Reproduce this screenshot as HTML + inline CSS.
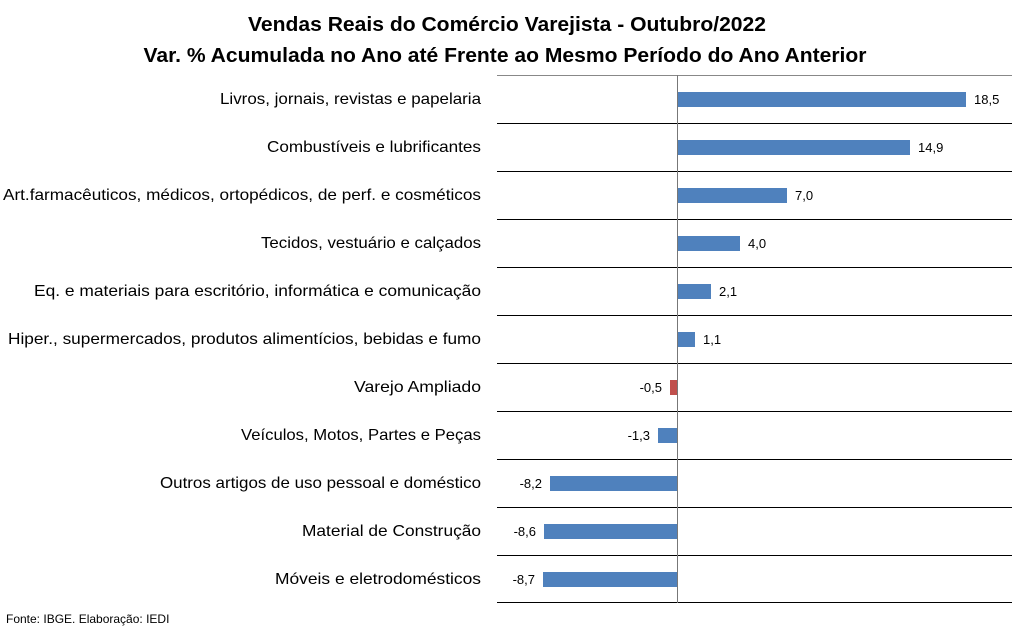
<!DOCTYPE html>
<html><head><meta charset="utf-8"><style>
body{margin:0;background:#fff;font-family:"Liberation Sans",sans-serif;}
svg text{font-family:"Liberation Sans",sans-serif;}
</style></head><body>
<svg width="1012" height="631" xmlns="http://www.w3.org/2000/svg">
<text x="507" y="31" text-anchor="middle" font-size="20" font-weight="bold" fill="#000" textLength="518" lengthAdjust="spacingAndGlyphs">Vendas Reais do Comércio Varejista - Outubro/2022</text>
<text x="505" y="62" text-anchor="middle" font-size="20" font-weight="bold" fill="#000" textLength="723" lengthAdjust="spacingAndGlyphs">Var. % Acumulada no Ano até Frente ao Mesmo Período do Ano Anterior</text>
<line x1="497" y1="75.5" x2="1012" y2="75.5" stroke="#888" stroke-width="1"/>
<g stroke="#000" stroke-width="1">
<line x1="497" y1="123.5" x2="1012" y2="123.5"/><line x1="497" y1="171.5" x2="1012" y2="171.5"/>
<line x1="497" y1="219.5" x2="1012" y2="219.5"/><line x1="497" y1="267.5" x2="1012" y2="267.5"/>
<line x1="497" y1="315.5" x2="1012" y2="315.5"/><line x1="497" y1="363.5" x2="1012" y2="363.5"/>
<line x1="497" y1="411.5" x2="1012" y2="411.5"/><line x1="497" y1="459.5" x2="1012" y2="459.5"/>
<line x1="497" y1="507.5" x2="1012" y2="507.5"/><line x1="497" y1="555.5" x2="1012" y2="555.5"/>
<line x1="497" y1="602.5" x2="1012" y2="602.5"/>
</g>
<g fill="#4f81bd">
<rect x="678" y="92" width="288" height="15"/>
<rect x="678" y="140" width="232" height="15"/>
<rect x="678" y="188" width="109" height="15"/>
<rect x="678" y="236" width="62" height="15"/>
<rect x="678" y="284" width="33" height="15"/>
<rect x="678" y="332" width="17" height="15"/>
<rect x="670" y="380" width="8" height="15" fill="#c0504d"/>
<rect x="658" y="428" width="20" height="15"/>
<rect x="550" y="476" width="128" height="15"/>
<rect x="544" y="524" width="134" height="15"/>
<rect x="543" y="572" width="135" height="15"/>
</g>
<line x1="677.5" y1="75" x2="677.5" y2="603" stroke="#777" stroke-width="1"/>
<g font-size="13" fill="#000">
<text x="974" y="104">18,5</text><text x="918" y="152">14,9</text><text x="795" y="200">7,0</text>
<text x="748" y="248">4,0</text><text x="719" y="296">2,1</text><text x="703" y="344">1,1</text>
<text x="662" y="392" text-anchor="end">-0,5</text><text x="650" y="440" text-anchor="end">-1,3</text>
<text x="542" y="488" text-anchor="end">-8,2</text><text x="536" y="536" text-anchor="end">-8,6</text>
<text x="535" y="584" text-anchor="end">-8,7</text>
</g>
<g font-size="16" fill="#000" text-anchor="end" lengthAdjust="spacingAndGlyphs">
<text x="481" y="104" textLength="261" lengthAdjust="spacingAndGlyphs">Livros, jornais, revistas e papelaria</text>
<text x="481" y="152" textLength="214" lengthAdjust="spacingAndGlyphs">Combustíveis e lubrificantes</text>
<text x="481" y="200" textLength="478" lengthAdjust="spacingAndGlyphs">Art.farmacêuticos, médicos, ortopédicos, de perf. e cosméticos</text>
<text x="481" y="248" textLength="220" lengthAdjust="spacingAndGlyphs">Tecidos, vestuário e calçados</text>
<text x="481" y="296" textLength="447" lengthAdjust="spacingAndGlyphs">Eq. e materiais para escritório, informática e comunicação</text>
<text x="481" y="344" textLength="473" lengthAdjust="spacingAndGlyphs">Hiper., supermercados, produtos alimentícios, bebidas e fumo</text>
<text x="481" y="392" textLength="127" lengthAdjust="spacingAndGlyphs">Varejo Ampliado</text>
<text x="481" y="440" textLength="240" lengthAdjust="spacingAndGlyphs">Veículos, Motos, Partes e Peças</text>
<text x="481" y="488" textLength="321" lengthAdjust="spacingAndGlyphs">Outros artigos de uso pessoal e doméstico</text>
<text x="481" y="536" textLength="179" lengthAdjust="spacingAndGlyphs">Material de Construção</text>
<text x="481" y="584" textLength="206" lengthAdjust="spacingAndGlyphs">Móveis e eletrodomésticos</text>
</g>
<text x="6" y="623" font-size="12" fill="#000">Fonte: IBGE. Elaboração: IEDI</text>
</svg>
</body></html>
